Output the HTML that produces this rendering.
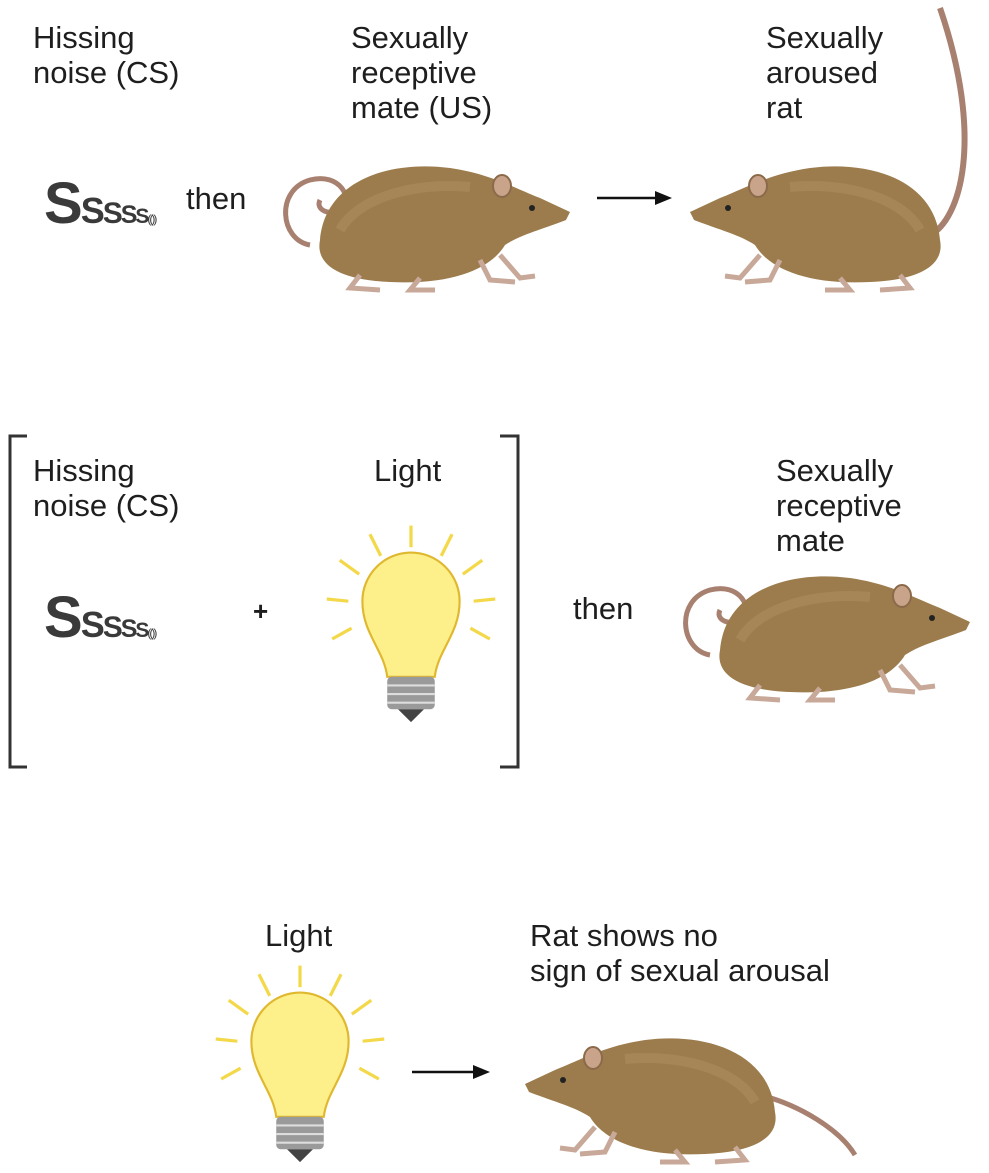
<!DOCTYPE html>
<html><head><meta charset="utf-8"><style>
html,body{margin:0;padding:0;background:#fff}
body{width:989px;height:1173px;position:relative;overflow:hidden;font-family:"Liberation Sans",sans-serif;color:#1e1e1e}
.t{position:absolute;font-size:31px;line-height:35px;white-space:nowrap}
.s{position:absolute;font-family:"Liberation Sans",sans-serif;color:#3a3a3a;white-space:nowrap;letter-spacing:-2px;font-weight:bold}
svg{position:absolute;left:0;top:0}
</style></head><body>
<svg width="989" height="1173" viewBox="0 0 989 1173">
<defs>
<path id="curl" d="M40 95 C10 90 5 40 40 30 C70 22 85 50 70 60 C60 66 45 60 50 50" fill="none" stroke="#a88070" stroke-width="5"/>
<g id="rat">
  <path d="M50 90 C55 30 120 10 180 18 C220 24 240 36 270 48 L300 62 L296 70 C270 80 250 85 235 95 C220 120 180 135 120 132 C70 130 45 115 50 90Z" fill="#9c7c4c"/>
  <path d="M70 80 C90 45 150 32 200 37" fill="none" stroke="#b09060" stroke-width="10" opacity=".5"/>
  <ellipse cx="232" cy="36" rx="9" ry="11" fill="#c9a48a" stroke="#8a6a4a" stroke-width="2"/>
  <circle cx="262" cy="58" r="3" fill="#222"/>
  <path d="M90 125 L80 138 L110 140 M150 128 L140 140 L165 140 M210 110 L220 130 L245 132 M230 105 L250 128 L265 126" stroke="#c8a898" stroke-width="5" fill="none"/>
</g>
<g id="bulb">
  <g stroke="#f3d94a" stroke-width="3">
    <line x1="0" y1="-60" x2="0" y2="-80"/><line x1="-28" y1="-52" x2="-38" y2="-72"/><line x1="28" y1="-52" x2="38" y2="-72"/>
    <line x1="-48" y1="-35" x2="-66" y2="-48"/><line x1="48" y1="-35" x2="66" y2="-48"/>
    <line x1="-58" y1="-10" x2="-78" y2="-12"/><line x1="58" y1="-10" x2="78" y2="-12"/>
    <line x1="-55" y1="15" x2="-73" y2="25"/><line x1="55" y1="15" x2="73" y2="25"/>
  </g>
  <path d="M-45 -10 A45 45 0 1 1 45 -10 C45 20 25 35 22 60 L-22 60 C-25 35 -45 20 -45 -10Z" fill="#fdf08a" stroke="#e0b830" stroke-width="2"/>
  <rect x="-22" y="60" width="44" height="30" rx="4" fill="#9a9a9a"/>
  <path d="M-22 68 H22 M-22 76 H22 M-22 84 H22" stroke="#ddd" stroke-width="2"/>
  <path d="M-12 90 L12 90 L0 102Z" fill="#444"/>
</g>
</defs>
<use href="#curl" transform="translate(270,150)"/>
<use href="#rat" transform="translate(270,150)"/>
<path d="M930 235 C960 220 985 140 940 8" fill="none" stroke="#a88070" stroke-width="6"/>
<use href="#rat" transform="translate(990,150) scale(-1,1)"/>
<line x1="597" y1="198" x2="660" y2="198" stroke="#111" stroke-width="2.5"/><path d="M672 198 L655 191 L655 205Z" fill="#111"/>
<path d="M27 436 H10 V767 H27" fill="none" stroke="#333" stroke-width="3"/>
<path d="M500 436 H518 V767 H500" fill="none" stroke="#333" stroke-width="3"/>
<use href="#bulb" transform="translate(411,612) scale(1.08)"/>
<use href="#curl" transform="translate(670,560)"/>
<use href="#rat" transform="translate(670,560)"/>
<use href="#bulb" transform="translate(300,1052) scale(1.08)"/>
<line x1="412" y1="1072" x2="478" y2="1072" stroke="#111" stroke-width="2.5"/><path d="M490 1072 L473 1065 L473 1079Z" fill="#111"/>
<path d="M760 1095 C800 1105 840 1130 855 1155" fill="none" stroke="#a88070" stroke-width="5"/>
<use href="#rat" transform="translate(825,1022) scale(-1,1)"/>
</svg>
<div class="t" style="left:33px;top:20px">Hissing<br>noise (CS)</div>
<div class="t" style="left:351px;top:20px">Sexually<br>receptive<br>mate (US)</div>
<div class="t" style="left:766px;top:20px">Sexually<br>aroused<br>rat</div>
<div class="s" style="left:44px;top:174px;line-height:60px"><span style="font-size:58px">S</span><span style="font-size:36px">S</span><span style="font-size:30px">S</span><span style="font-size:25px">S</span><span style="font-size:21px">S</span><span style="font-size:12px;font-weight:normal">(())</span></div>
<div class="t" style="left:186px;top:181px">then</div>
<div class="t" style="left:33px;top:453px">Hissing<br>noise (CS)</div>
<div class="t" style="left:374px;top:453px">Light</div>
<div class="s" style="left:44px;top:588px;line-height:60px"><span style="font-size:58px">S</span><span style="font-size:36px">S</span><span style="font-size:30px">S</span><span style="font-size:25px">S</span><span style="font-size:21px">S</span><span style="font-size:12px;font-weight:normal">(())</span></div>
<div class="t" style="left:253px;top:594px;font-weight:bold;font-size:26px">+</div>
<div class="t" style="left:573px;top:591px">then</div>
<div class="t" style="left:776px;top:453px">Sexually<br>receptive<br>mate</div>
<div class="t" style="left:265px;top:918px">Light</div>
<div class="t" style="left:530px;top:918px">Rat shows no<br>sign of sexual arousal</div>
</body></html>
